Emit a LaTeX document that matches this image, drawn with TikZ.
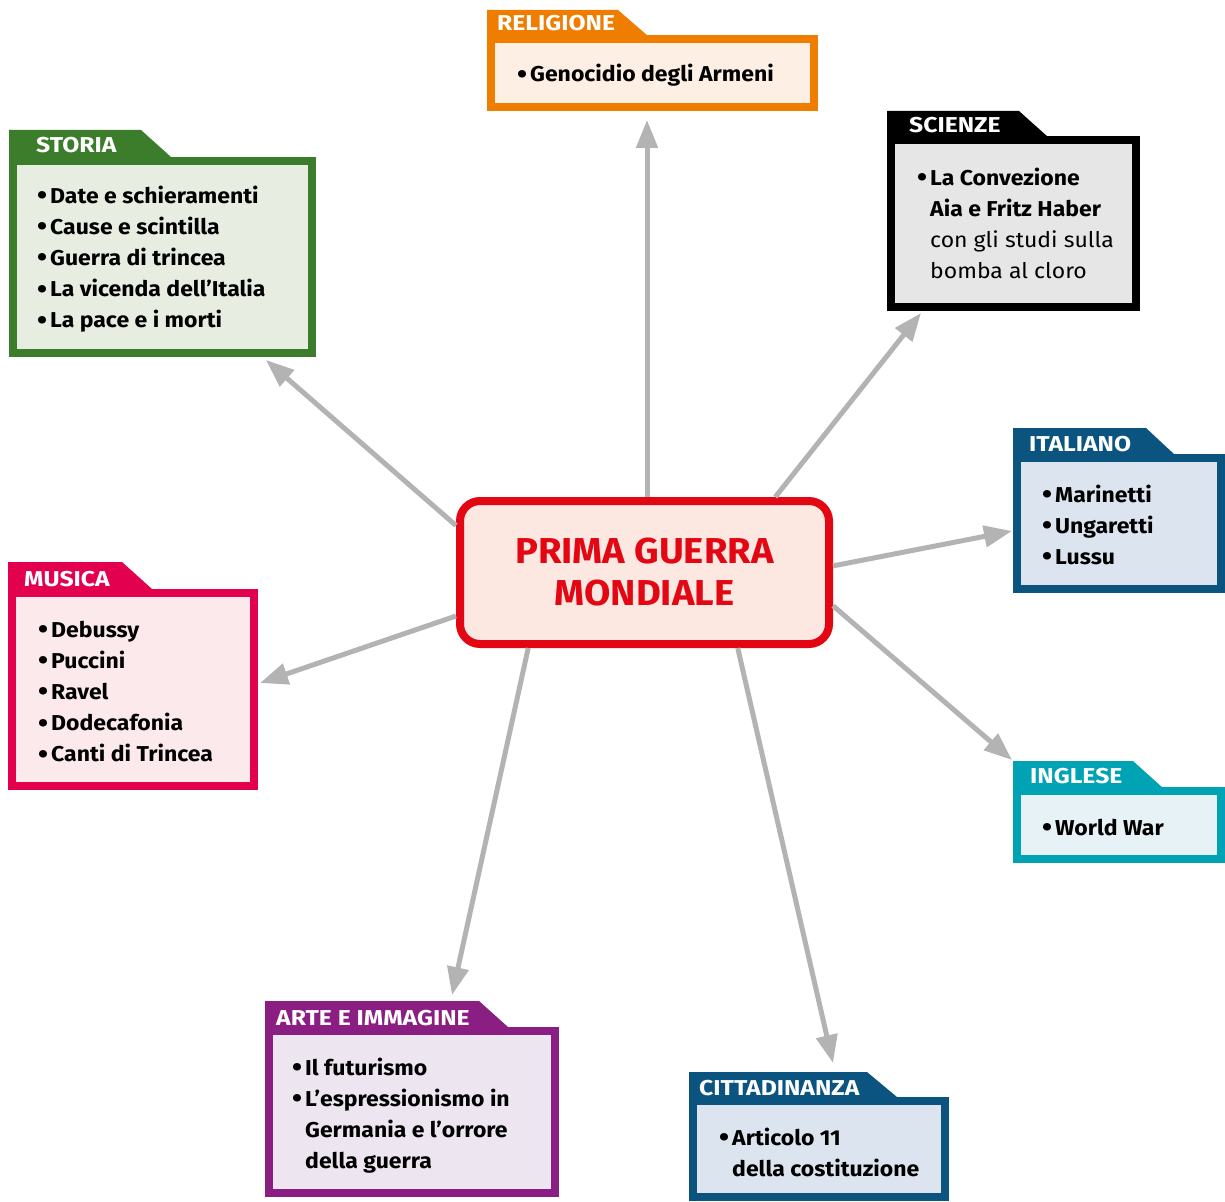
\documentclass[tikz,border=0pt]{standalone}
\usepackage{fontspec}
\setmainfont{Fira Sans}
\newfontfamily\itemfont[FakeStretch=1.07]{Fira Sans}
\newfontfamily\tabfont[FakeStretch=1.15]{Fira Sans}
\newfontfamily\titlefont[FakeStretch=1.06]{Fira Sans}
\usetikzlibrary{arrows.meta,positioning}
\definecolor{titlec}{HTML}{E30613}
\definecolor{titlebg}{HTML}{FCE8E0}
\definecolor{storiac}{HTML}{3C7D2B}
\definecolor{storiabg}{HTML}{E8EDE2}
\definecolor{religc}{HTML}{EE7D00}
\definecolor{religbg}{HTML}{FDEFE3}
\definecolor{scienzec}{HTML}{000000}
\definecolor{scienzebg}{HTML}{E6E6E6}
\definecolor{bluec}{HTML}{0B5480}
\definecolor{bluebg}{HTML}{DCE5EF}
\definecolor{inglc}{HTML}{00A3B4}
\definecolor{inglbg}{HTML}{E6F2F6}
\definecolor{musicac}{HTML}{E2004F}
\definecolor{musicabg}{HTML}{FCE9EC}
\definecolor{artec}{HTML}{8A1E82}
\definecolor{artebg}{HTML}{EDE5F0}
\definecolor{arrowc}{HTML}{B3B3B3}
\newcommand{\bul}{\makebox[13pt][l]{\raisebox{-1.5pt}{\fontsize{27}{27}\selectfont\textbullet}}}
\newcommand{\ind}{\hspace*{13pt}}

\begin{document}
\begin{tikzpicture}[x=1pt,y=-1pt,
box/.style={draw=#1,line width=8pt,inner sep=0pt},
tab/.style={anchor=base west,inner sep=0pt,text=white,font=\tabfont\fontsize{21.5}{26}\selectfont\bfseries},
items/.style={anchor=base west,inner sep=0pt,align=left,font=\itemfont\fontsize{21.5}{31.2}\selectfont\bfseries},
conn/.style={draw=arrowc,line width=5pt,-{Triangle[length=28pt,width=21pt]}}]
\useasboundingbox (0,0) rectangle (1225,1201);

% centre
\node (centre) [box=titlec,fill=titlebg,rounded corners=20pt,
    minimum width=369pt,minimum height=143pt,
    text=titlec,align=center,font=\titlefont\fontsize{36}{42}\selectfont\bfseries]
    at (644.5,572.5) {PRIMA GUERRA\\MONDIALE};

% religione
\node (religione) [box=religc,fill=religbg,minimum width=323pt,minimum height=68pt] at (652.5,73) {};
\fill[religc] (487,39) -- (487,10) -- (618,10) -- (648,36) -- (648,39) -- cycle;
\node (religione-tab) [tab] at (497,31) {RELIGIONE};
\node (religione-txt) [items] at (517,82) {\bul Genocidio degli Armeni};

% storia (text nodes sit on the baseline of their last line)
\node (storia) [box=storiac,fill=storiabg,minimum width=299pt,minimum height=192pt] at (162.5,257) {};
\fill[storiac] (9,161) -- (9,130) -- (141,130) -- (171,157) -- (171,161) -- cycle;
\node (storia-tab) [tab] at (36,153) {STORIA};
\node (storia-txt) [items] at (37,327.8) {\bul Date e schieramenti\\ \bul Cause e scintilla\\
    \bul Guerra di trincea\\ \bul La vicenda dell’Italia\\ \bul La pace e i morti};

% scienze
\node (scienze) [box=scienzec,fill=scienzebg,minimum width=245pt,minimum height=167pt] at (1013.5,223.5) {};
\fill[scienzec] (887,140) -- (887,111) -- (1019,111) -- (1048,137) -- (1048,140) -- cycle;
\node (scienze-tab) [tab] at (909,133) {SCIENZE};
\node (scienze-txt) [items] at (917,278.6) {\bul La Convezione\\ \ind Aia e Fritz Haber\\
    \ind{\mdseries con gli studi sulla}\\ \ind{\mdseries bomba al cloro}};

% italiano
\node (italiano) [box=bluec,fill=bluebg,minimum width=204pt,minimum height=131pt] at (1119,523.5) {};
\fill[bluec] (1013,458) -- (1013,428) -- (1146,428) -- (1175,455) -- (1175,458) -- cycle;
\node (italiano-tab) [tab] at (1029,451) {ITALIANO};
\node (italiano-txt) [items] at (1042,564.4) {\bul Marinetti\\ \bul Ungaretti\\ \bul Lussu};

% inglese
\node (inglese) [box=inglc,fill=inglbg,minimum width=204pt,minimum height=68pt] at (1119,825) {};
\fill[inglc] (1013,791) -- (1013,761) -- (1133,761) -- (1163,788) -- (1163,791) -- cycle;
\node (inglese-tab) [tab] at (1030,783) {INGLESE};
\node (inglese-txt) [items] at (1042,835) {\bul World War};

% musica
\node (musica) [box=musicac,fill=musicabg,minimum width=242pt,minimum height=193pt] at (133,689.5) {};
\fill[musicac] (8,593) -- (8,562) -- (122,562) -- (152,589) -- (152,593) -- cycle;
\node (musica-tab) [tab] at (24,586) {MUSICA};
\node (musica-txt) [items] at (38,761.8) {\bul Debussy\\ \bul Puccini\\ \bul Ravel\\
    \bul Dodecafonia\\ \bul Canti di Trincea};

% arte e immagine
\node (arte) [box=artec,fill=artebg,minimum width=286pt,minimum height=162pt] at (412,1112) {};
\fill[artec] (265,1031) -- (265,1001) -- (479,1001) -- (508,1027) -- (508,1031) -- cycle;
\node (arte-tab) [tab] at (276,1025) {ARTE E IMMAGINE};
\node (arte-txt) [items] at (292,1168.6) {\bul Il futurismo\\ \bul L’espressionismo in\\
    \ind Germania e l’orrore\\ \ind della guerra};

% cittadinanza
\node (citt) [box=bluec,fill=bluebg,minimum width=252pt,minimum height=96pt] at (819,1149) {};
\fill[bluec] (689,1101) -- (689,1072) -- (867,1072) -- (897,1097) -- (897,1101) -- cycle;
\node (citt-tab) [tab] at (699,1095) {CITTADINANZA};
\node (citt-txt) [items] at (719,1176.2) {\bul Articolo 11\\ \ind della costituzione};

% arrow ends
\coordinate (religione-in) at (647,120);
\coordinate (storia-in) at (266,360);
\coordinate (scienze-in) at (921,313);
\coordinate (italiano-in) at (1012,531);
\coordinate (inglese-in) at (1012,760);
\coordinate (musica-in) at (260,683);
\coordinate (arte-in) at (452,995);
\coordinate (citt-in) at (833,1063);

\draw[conn] (centre.north -| religione-in) -- (religione-in);
\draw[conn] (centre.166) -- (storia-in);
\draw[conn] (centre.30.6) -- (scienze-in);
\draw[conn] (centre.2) -- (italiano-in);
\draw[conn] (centre.-10.4) -- (inglese-in);
\draw[conn] (centre.193) -- (musica-in);
\draw[conn] (centre.213.4) -- (arte-in);
\draw[conn] (centre.-39.4) -- (citt-in);
\end{tikzpicture}
\end{document}
